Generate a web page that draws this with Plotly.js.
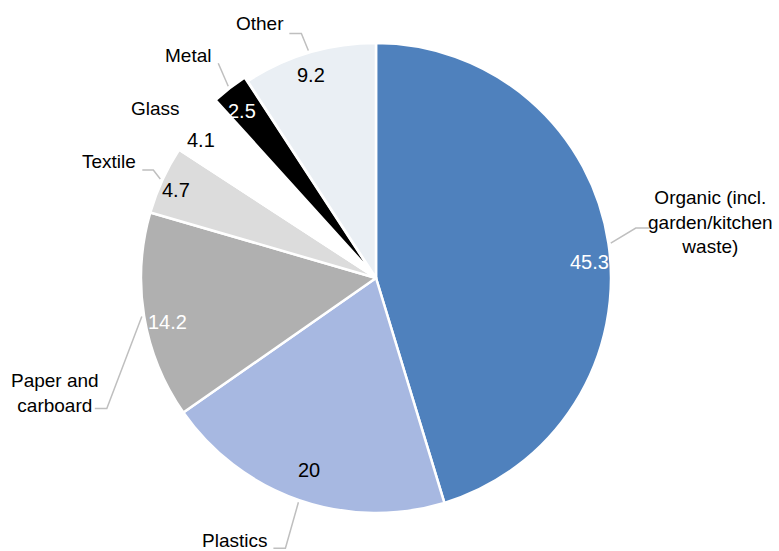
<!DOCTYPE html>
<html><head><meta charset="utf-8">
<script src="https://cdn.plot.ly/plotly-3.0.1.min.js"></script>
<style>html,body{margin:0;padding:0;background:#fff}</style></head>
<body>
<div id="chart" style="width:779px;height:551px"></div>
<script>
// ---- data ----
const categories = ["Organic (incl.<br>garden/kitchen<br>waste)", "Plastics", "Paper and<br>carboard", "Textile", "Glass", "Metal", "Other"];
const values = [45.3, 20, 14.2, 4.7, 4.1, 2.5, 9.2];
const valueLabels = ["45.3", "20", "14.2", "4.7", "4.1", "2.5", "9.2"];

// ---- styling ----
const colors = ["#4f81bd", "#a7b8e1", "#b0b0b0", "#dcdcdc", "#ffffff", "#000000", "#eaeff4"];
const valueColors = ["#ffffff", "#000000", "#ffffff", "#000000", "#000000", "#ffffff", "#000000"];
const pulls = [0, 0, 0, 0, 0, 0.02, 0];
const valueRadius = [0.91, 0.87, 0.91, 0.93, 0.95, 0.91, 0.91];
const valueNudge = [[2, 15], [0, -1], [3, 9], [-1, 3], [-5, 7], [-1, 6], [-4, 2]]; // pixel nudges
// leader-line layout per label (pixels): elbow offset from slice edge, horizontal run, text placement
const leaders = [
  {line: true, ex: 25, ey: -15, h: 14, anchor: "center", tx: 61, ty: -6},
  {line: true, ex: -13, ey: 46, h: -12, anchor: "right", tx: -4, ty: -8},
  {line: true, ex: -35, ey: 92, h: -12, anchor: "right", tx: 6, ty: -16},
  {line: true, ex: -7, ey: -9, h: -11, anchor: "right", tx: -4, ty: -8},
  {line: false, ex: -40, ey: -15, h: 0, anchor: "center", tx: 0, ty: 0},
  {line: true, ex: -10, ey: -23, h: 0, anchor: "right", tx: -5, ty: -8},
  {line: true, ex: -7, ey: -17, h: -12, anchor: "right", tx: -3, ty: -10}
];

const W = 779, H = 551, CX = 376, CY = 278, R = 235;
const FONT = "'Liberation Sans Narrow', 'Arial Narrow', 'Liberation Sans', Arial, sans-serif";
const FS_LABEL = 19, FS_VALUE = 20;
const maxPull = Math.max(...pulls);
const half = R * (1 + maxPull);
const px = x => x / W;
const py = y => 1 - y / H;

const total = values.reduce((a, b) => a + b, 0);
const annotations = [];
const shapes = [];
let cum = 0;
values.forEach((v, i) => {
  const th = 2 * Math.PI * (cum + v / 2) / total;
  cum += v;
  const dx = Math.sin(th), dy = -Math.cos(th);
  const ox = CX + dx * pulls[i] * R, oy = CY + dy * pulls[i] * R;
  // value label
  annotations.push({
    xref: "paper", yref: "paper",
    x: px(ox + dx * valueRadius[i] * R + valueNudge[i][0]),
    y: py(oy + dy * valueRadius[i] * R + valueNudge[i][1]),
    text: valueLabels[i], showarrow: false, xanchor: "center", yanchor: "middle",
    font: {family: FONT, size: FS_VALUE, color: valueColors[i]}
  });
  // category label + leader
  const L = leaders[i];
  const tipX = ox + dx * R * 1.01, tipY = oy + dy * R * 1.01;
  const elX = tipX + L.ex, elY = tipY + L.ey;
  const endX = elX + L.h, endY = elY;
  if (L.line) {
    shapes.push({
      type: "path", xref: "paper", yref: "paper",
      path: `M ${px(tipX)} ${py(tipY)} L ${px(elX)} ${py(elY)} L ${px(endX)} ${py(endY)}`,
      line: {color: "#bfbfbf", width: 1.5}
    });
  }
  annotations.push({
    xref: "paper", yref: "paper", x: px(endX + L.tx), y: py(endY + L.ty),
    text: categories[i], showarrow: false, xanchor: L.anchor, yanchor: "middle", align: "center",
    font: {family: FONT, size: FS_LABEL, color: "#000000"}
  });
});

const trace = {
  type: "pie",
  labels: categories,
  values: values,
  sort: false,
  direction: "clockwise",
  rotation: 0,
  pull: pulls,
  textinfo: "none",
  hoverinfo: "label+value",
  marker: {colors: colors, line: {color: "#ffffff", width: 2.5}},
  domain: {x: [px(CX - half), px(CX + half)], y: [py(CY + half), py(CY - half)]},
  showlegend: false
};

const layout = {
  width: W, height: H,
  margin: {l: 0, r: 0, t: 0, b: 0},
  paper_bgcolor: "#ffffff",
  showlegend: false,
  annotations: annotations,
  shapes: shapes,
  font: {family: FONT}
};

Plotly.newPlot("chart", [trace], layout, {displayModeBar: false, staticPlot: true});
</script>
</body></html>
